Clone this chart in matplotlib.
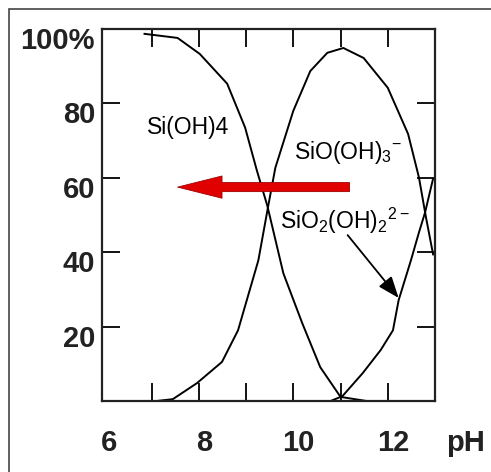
import matplotlib
matplotlib.use("Agg")
import matplotlib.pyplot as plt
import matplotlib.transforms as mtransforms
from matplotlib.patches import Rectangle

plt.rcParams["font.family"] = ["Liberation Sans", "DejaVu Sans"]
plt.rcParams["mathtext.default"] = "regular"

# Species distribution of silicic acid vs pH
ph_sioh4 = [6.85, 7.55, 8.02, 8.60, 8.98, 9.23, 9.45, 9.79, 10.19, 10.57, 11.0, 11.55]
pct_sioh4 = [98.7, 97.6, 93.3, 85.3, 73.5, 61.9, 52.5, 34.3, 20.9, 9.1, 1.1, 0.0]

ph_sioh3 = [7.11, 7.45, 7.96, 8.49, 8.83, 9.26, 9.47, 9.62, 10.0, 10.36, 10.72,
            11.06, 11.49, 12.0, 12.43, 12.66, 12.81, 12.96]
pct_sioh3 = [0.0, 0.5, 4.8, 10.5, 19.0, 37.8, 52.5, 62.7, 78.0, 88.7, 93.6,
             94.9, 92.2, 84.2, 71.8, 60.1, 49.3, 39.4]

ph_sio2oh2 = [10.79, 11.04, 11.47, 11.85, 12.11, 12.23, 12.49, 12.66, 12.79, 12.96]
pct_sio2oh2 = [0.0, 1.3, 7.5, 13.7, 19.0, 27.1, 37.8, 45.3, 50.7, 59.8]

x_ticks = [7, 8, 9, 10, 11, 12]
y_ticks = [20, 40, 60, 80]
x_labels = ["6", "8", "10", "12"]
x_label_pos = [6, 8, 10, 12]
y_labels = ["100%", "80", "60", "40", "20"]
y_label_pos = [100, 80, 60, 40, 20]

species = ["Si(OH)4", "SiO(OH)$_3$$^{-}$", "SiO$_2$(OH)$_2$$^{2-}$"]
species_xy = [(7.77, 73.5), (11.17, 66.8), (11.1, 48.5)]

fig = plt.figure(figsize=(4.91, 4.72), dpi=100)
ax = fig.add_axes([102 / 491, 71 / 472, 333 / 491, 372 / 472])

# frame around the picture (only top and left edges visible)
fig.add_artist(Rectangle((8.5 / 491, -0.1), 1.2, 1.1 - 8.5 / 472,
                         transform=fig.transFigure, fill=False,
                         ec="#444444", lw=1.2))

ax.plot(ph_sioh4, pct_sioh4, color="black", lw=1.4)
ax.plot(ph_sioh3, pct_sioh3, color="black", lw=1.4)
ax.plot(ph_sio2oh2, pct_sio2oh2, color="black", lw=1.4)

ax.set_xlim(5.95, 13.0)
ax.set_ylim(0, 100)
ax.set_xticks(x_ticks)
ax.set_yticks(y_ticks)
ax.tick_params(direction="in", length=13, width=1.3, top=True, right=True,
               labelleft=False, labelbottom=False)
for s in ax.spines.values():
    s.set_linewidth(1.6)
    s.set_color("#222222")

# y tick labels
ytr = ax.get_yaxis_transform() + mtransforms.ScaledTranslation(-0.07, 0.02, fig.dpi_scale_trans)
for lab, v in zip(y_labels, y_label_pos):
    ax.text(0, v, lab, transform=ytr, ha="right", va="top",
            fontsize=21, fontweight="bold", color="#222222")

# x tick labels
xtr = ax.get_xaxis_transform() + mtransforms.ScaledTranslation(0.05, -0.28, fig.dpi_scale_trans)
for lab, v in zip(x_labels, x_label_pos):
    ax.text(v, 0, lab, transform=xtr, ha="center", va="top",
            fontsize=21, fontweight="bold", color="#222222")
ax.text(13.55, 0, "pH", transform=xtr, ha="center", va="top",
        fontsize=21, fontweight="bold", color="#222222", clip_on=False)

for name, (x, y) in zip(species, species_xy):
    ax.text(x, y, name, ha="center", va="center", fontsize=16.5, color="black")

# red arrow
ax.annotate("", xy=(7.55, 57.5), xytext=(11.19, 57.5),
            arrowprops=dict(arrowstyle="simple,head_length=3.2,head_width=1.6,tail_width=0.65",
                            mutation_scale=10, fc="#e00000", ec="#a00000", lw=0.6,
                            shrinkA=0, shrinkB=0))

# black pointer arrow
ax.annotate("", xy=(12.23, 27.7), xytext=(11.15, 44.6),
            arrowprops=dict(arrowstyle="-|>,head_length=1.3,head_width=0.5",
                            mutation_scale=10, color="black", lw=1.3,
                            shrinkA=0, shrinkB=0))

fig.savefig("out.png", dpi=100)
